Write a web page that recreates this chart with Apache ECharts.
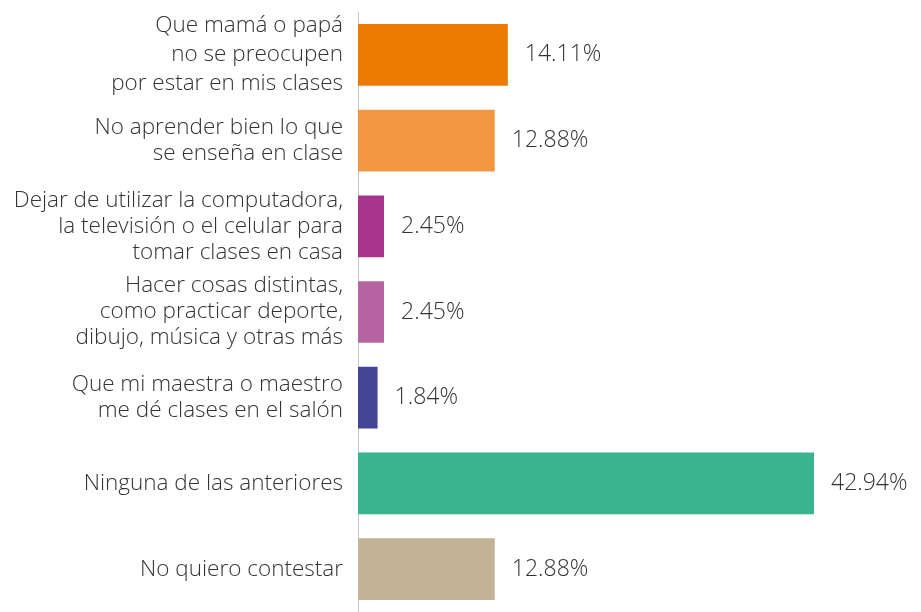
<!DOCTYPE html>
<html>
<head>
<meta charset="utf-8">
<script src="https://cdn.jsdelivr.net/npm/echarts@6/dist/echarts.min.js"></script>
<style>
  html, body { margin: 0; padding: 0; background: #fff; }
  #main { width: 921px; height: 612px; }
</style>
</head>
<body>
<div id="main"></div>
<script>
var categories = [
  'Que mamá o papá\nno se preocupen\npor estar en mis clases',
  'No aprender bien lo que\nse enseña en clase',
  'Dejar de utilizar la computadora,\nla televisión o el celular para\ntomar clases en casa',
  'Hacer cosas distintas,\ncomo practicar deporte,\ndibujo, música y otras más',
  'Que mi maestra o maestro\nme dé clases en el salón',
  'Ninguna de las anteriores',
  'No quiero contestar'
];
var values = [14.11, 12.88, 2.45, 2.45, 1.84, 42.94, 12.88];
var colors = ['#ec7a00', '#f19743', '#a6358b', '#b764a3', '#434495', '#3ab48e', '#c2b296'];

var fontFamily = '"Open Sans", "Noto Sans", sans-serif';

var chart = echarts.init(document.getElementById('main'));
var option = {
  animation: false,
  grid: {
    left: 358,
    top: 12,
    width: 456,
    height: 603
  },
  xAxis: {
    type: 'value',
    min: 0,
    max: 42.94,
    show: false
  },
  yAxis: {
    type: 'category',
    inverse: true,
    data: categories,
    axisLine: { show: true, lineStyle: { color: '#c8c8c8', width: 1 } },
    axisTick: { show: false },
    axisLabel: {
      margin: 15,
      color: '#333',
      fontSize: 22.5,
      lineHeight: 26,
      fontWeight: 300,
      fontFamily: fontFamily,
      align: 'right',
      formatter: function (val, idx) {
        // first label is spaced a bit wider in the original
        if (idx === 0) {
          return val.split('\n').map(function (s) { return '{w|' + s + '}'; }).join('\n');
        }
        return val;
      },
      rich: {
        w: {
          color: '#333',
          fontSize: 22.5,
          lineHeight: 29,
          fontWeight: 300,
          fontFamily: fontFamily
        }
      }
    }
  },
  series: [{
    type: 'bar',
    barWidth: '72%',
    data: values.map(function (v, i) {
      return { value: v, itemStyle: { color: colors[i] } };
    }),
    label: {
      show: true,
      position: 'right',
      distance: 17,
      color: '#333',
      fontSize: 23,
      fontWeight: 300,
      fontFamily: fontFamily,
      formatter: function (p) { return p.value.toFixed(2) + '%'; }
    }
  }]
};
chart.setOption(option);
</script>
</body>
</html>
